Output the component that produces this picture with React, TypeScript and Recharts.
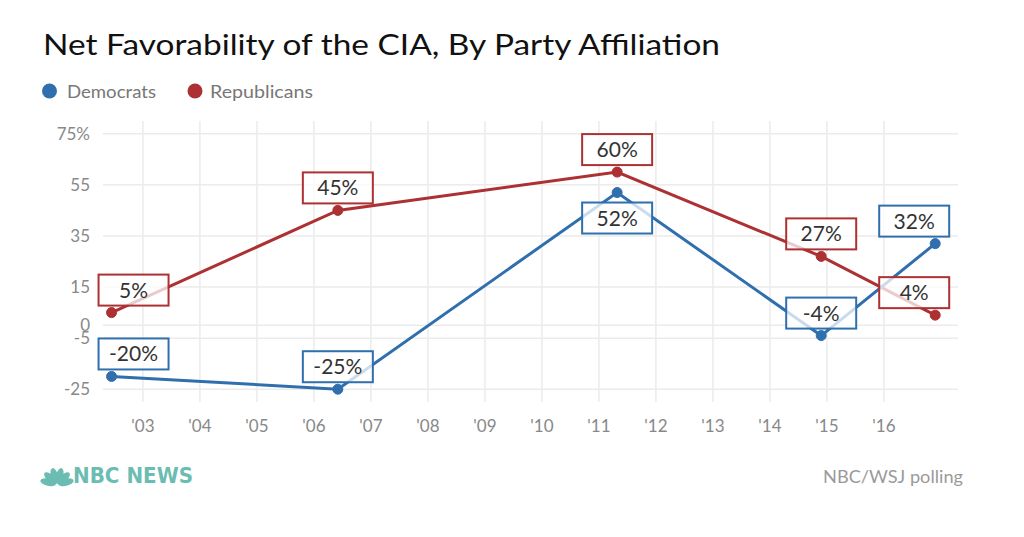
import { LineChart, Line, XAxis, YAxis, CartesianGrid, LabelList } from 'recharts';

// poll dates as fractional years, values are net favorability in points
const pollDates = [2002.45, 2006.42, 2011.32, 2014.9, 2016.9];
const democrats = [-20, -25, 52, -4, 32];
const republicans = [5, 45, 60, 27, 4];
const yearTicks = [2003, 2004, 2005, 2006, 2007, 2008, 2009, 2010, 2011, 2012, 2013, 2014, 2015, 2016];
const valueTicks = [75, 55, 35, 15, 0, -5, -25];

const data = pollDates.map((date, i) => ({ date, dem: democrats[i], rep: republicans[i] }));

const X_DOMAIN: [number, number] = [2002.3, 2017.3];
const Y_DOMAIN: [number, number] = [-30, 80];

const BLUE = '#2f6fae';
const RED = '#ad3132';
const TEAL = '#6bbcb2';
const W = 1024;
const H = 537;
const MARGIN = { top: 121, right: 66, bottom: 105, left: 0 };
const Y_AXIS_W = 103;
const PLOT_LEFT = MARGIN.left + Y_AXIS_W;
const PLOT_RIGHT = W - MARGIN.right;
const BOX_W = 70;
const BOX_H = 31;
const FONT = 'Lato, "Open Sans", sans-serif';

// boxed value label; goes under the point when the other party sits just above it
function makeBox(color: string, mine: number[], other: number[]) {
  return (props: any) => {
    const vb = props.viewBox || {};
    const px = props.x ?? vb.x;
    const py = props.y ?? vb.y;
    const i = props.index ?? mine.indexOf(Number(props.value));
    const diff = other[i] - mine[i];
    const below = diff > 0 && diff < 12;
    let left = px - BOX_W / 2;
    if (left < PLOT_LEFT) left = px - 13;
    if (left + BOX_W > PLOT_RIGHT) left = px + 14 - BOX_W;
    const top = below ? py + 10 : py - 7 - BOX_H;
    return (
      <g>
        <rect x={left} y={top} width={BOX_W} height={BOX_H} fill="#fff" fillOpacity={0.75} stroke={color} strokeWidth={2} />
        <text x={left + BOX_W / 2} y={top + BOX_H / 2 + 7.5} textAnchor="middle" fontSize={21} fill="#333" fontFamily={FONT}>
          {`${props.value}%`}
        </text>
      </g>
    );
  };
}

function Peacock({ x, y }: { x: number; y: number }) {
  const feathers = [-78, -47, -16, 16, 47, 78];
  return (
    <g>
      {feathers.map((a) => {
        const r = (a * Math.PI) / 180;
        const cx = x + Math.sin(r) * 9;
        const cy = y - Math.cos(r) * 8.5;
        return <ellipse key={a} cx={cx} cy={cy} rx={3.6} ry={8} fill={TEAL} transform={`rotate(${a} ${cx} ${cy})`} />;
      })}
    </g>
  );
}

// grid only at the tick values, no frame around the plot
const gridRows = ({ offset }: any) =>
  valueTicks.map((v) => offset.top + ((Y_DOMAIN[1] - v) / (Y_DOMAIN[1] - Y_DOMAIN[0])) * offset.height);
const gridCols = ({ offset }: any) =>
  yearTicks.map((v) => offset.left + ((v - X_DOMAIN[0]) / (X_DOMAIN[1] - X_DOMAIN[0])) * offset.width);

export default function App() {
  return (
    <div style={{ position: 'absolute', left: 0, top: 0, width: W, height: H, background: '#fff', fontFamily: FONT }}>
      <svg width={W} height={H} style={{ position: 'absolute', left: 0, top: 0 }}>
        <text x={43} y={55} fontSize={28} fill="#111" fontFamily={FONT} textLength={677} lengthAdjust="spacingAndGlyphs">
          Net Favorability of the CIA, By Party Affiliation
        </text>
        <circle cx={49.5} cy={91} r={7.5} fill={BLUE} />
        <text x={67} y={98} fontSize={17} fill="#777" fontFamily={FONT} textLength={89} lengthAdjust="spacingAndGlyphs">
          Democrats
        </text>
        <circle cx={195} cy={91} r={7.5} fill={RED} />
        <text x={210} y={98} fontSize={17} fill="#777" fontFamily={FONT} textLength={103} lengthAdjust="spacingAndGlyphs">
          Republicans
        </text>
        <Peacock x={57} y={484} />
        <text x={73} y={483} fontSize={22} fontWeight={600} fill={TEAL} fontFamily='"DejaVu Sans Condensed", "DejaVu Sans", sans-serif' textLength={120} lengthAdjust="spacingAndGlyphs">
          NBC NEWS
        </text>
        <text x={823} y={483} fontSize={18} fill="#9a9a9a" fontFamily={FONT} textLength={140} lengthAdjust="spacingAndGlyphs">
          NBC/WSJ polling
        </text>
      </svg>
      <div style={{ position: 'absolute', left: 0, top: 0 }}>
        <LineChart width={W} height={H} data={data} margin={MARGIN}>
          <CartesianGrid
            stroke="#ebebeb"
            strokeWidth={1.5}
            horizontalCoordinatesGenerator={gridRows}
            verticalCoordinatesGenerator={gridCols}
          />
          <XAxis
            dataKey="date"
            type="number"
            domain={X_DOMAIN}
            ticks={yearTicks}
            interval={0}
            tickFormatter={(v) => `'${String(v).slice(2)}`}
            axisLine={false}
            tickLine={false}
            tickSize={0}
            tickMargin={18}
            tick={{ fill: '#888', fontSize: 17, fontFamily: FONT }}
          />
          <YAxis
            type="number"
            domain={Y_DOMAIN}
            ticks={valueTicks}
            interval={0}
            width={Y_AXIS_W}
            tickFormatter={(v) => (v === 75 ? '75%' : String(v))}
            axisLine={false}
            tickLine={false}
            tickSize={0}
            tickMargin={13}
            tick={{ fill: '#888', fontSize: 17, fontFamily: FONT }}
          />
          <Line dataKey="rep" stroke={RED} strokeWidth={3} dot={{ r: 5, fill: RED, stroke: RED, strokeWidth: 1 }} activeDot={false} isAnimationActive={false} />
          <Line dataKey="dem" stroke={BLUE} strokeWidth={3} dot={{ r: 5, fill: BLUE, stroke: BLUE, strokeWidth: 1 }} activeDot={false} isAnimationActive={false} />
          {/* label-only series so the boxes sit above both lines */}
          <Line dataKey="rep" stroke="none" dot={false} activeDot={false} isAnimationActive={false}>
            <LabelList dataKey="rep" content={makeBox(RED, republicans, democrats)} />
          </Line>
          <Line dataKey="dem" stroke="none" dot={false} activeDot={false} isAnimationActive={false}>
            <LabelList dataKey="dem" content={makeBox(BLUE, democrats, republicans)} />
          </Line>
        </LineChart>
      </div>
    </div>
  );
}
